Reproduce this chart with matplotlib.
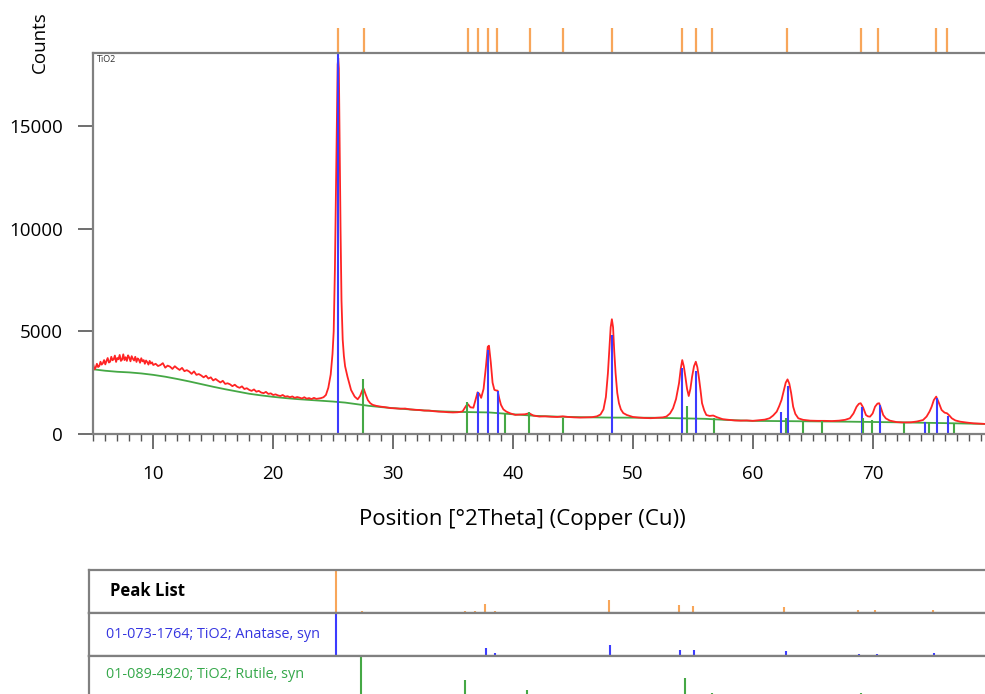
import numpy as np
import matplotlib.pyplot as plt
from matplotlib.ticker import MultipleLocator

plt.rcParams['font.family'] = ['Open Sans', 'DejaVu Sans']

scan_2theta = [
    5.0, 5.1, 5.2, 5.3, 5.4, 5.5, 5.6, 5.7, 5.8, 5.9, 6.0, 6.1, 6.2, 6.3, 6.4, 6.5, 6.6, 6.7, 6.8, 6.9,
    7.0, 7.1, 7.2, 7.3, 7.4, 7.5, 7.6, 7.7, 7.8, 7.9, 8.0, 8.1, 8.2, 8.3, 8.4, 8.5, 8.6, 8.7, 8.8, 8.9,
    9.0, 9.1, 9.2, 9.3, 9.4, 9.5, 9.6, 9.7, 9.8, 9.9, 10.0,
    10.2, 10.4, 10.6, 10.8, 11.0, 11.2, 11.4, 11.6, 11.8, 12.0, 12.2, 12.4, 12.6, 12.8, 13.0, 13.2, 13.4,
    13.6, 13.8, 14.0, 14.2, 14.4, 14.6, 14.8, 15.0, 15.2, 15.4, 15.6, 15.8, 16.0, 16.2, 16.4, 16.6, 16.8,
    17.0, 17.2, 17.4, 17.6, 17.8, 18.0, 18.2, 18.4, 18.6, 18.8, 19.0, 19.2, 19.4, 19.6, 19.8, 20.0, 20.2,
    20.4, 20.6, 20.8, 21.0, 21.2, 21.4, 21.6, 21.8, 22.0, 22.2, 22.4, 22.6, 22.8, 23.0, 23.2, 23.4, 23.6,
    23.8, 24.0, 24.2,
    24.4, 24.6, 24.8, 24.95, 25.05, 25.15, 25.25, 25.32, 25.38, 25.43, 25.48, 25.55, 25.62, 25.7, 25.8,
    25.9, 26.0, 26.2, 26.5, 26.8, 27.05, 27.25, 27.45, 27.55, 27.7, 27.9, 28.1, 28.3, 28.6, 29.0, 29.4,
    29.8, 30.2, 30.6, 31.0, 31.4, 31.8, 32.2, 32.6, 33.0, 33.4, 33.8, 34.2, 34.6, 35.0, 35.4, 35.8,
    36.1, 36.25, 36.45, 36.7, 36.9, 37.05, 37.2, 37.35, 37.55, 37.75, 37.9, 38.0, 38.15, 38.3, 38.45,
    38.6, 38.72, 38.85, 39.0, 39.2, 39.45, 39.8, 40.2, 40.6, 41.0, 41.35, 41.7, 42.2, 42.7, 43.2, 43.7,
    44.15, 44.6, 45.1, 45.6, 46.1, 46.6, 47.0, 47.3, 47.55, 47.75, 47.92, 48.05, 48.15, 48.25, 48.35,
    48.45, 48.56, 48.7, 48.84, 49.0, 49.2, 49.5, 50.0, 50.5, 51.0, 51.5, 52.0, 52.5, 52.8, 53.1, 53.35,
    53.6, 53.85, 54.0, 54.12, 54.25, 54.38, 54.52, 54.66, 54.8, 54.94, 55.1, 55.25, 55.38, 55.5, 55.65,
    55.77, 55.95, 56.13, 56.4, 56.7, 57.0, 57.5, 58.0, 58.5, 59.0, 59.5, 60.0, 60.5, 61.0, 61.4, 61.7,
    62.0, 62.2, 62.4, 62.6, 62.75, 62.9, 63.05, 63.2, 63.37, 63.55, 63.8, 64.2, 64.8, 65.4, 66.0, 66.6,
    67.2, 67.7, 68.1, 68.4, 68.66, 68.85, 69.0, 69.2, 69.44, 69.6, 69.78, 70.0, 70.2, 70.4, 70.54, 70.7,
    70.88, 71.1, 71.44, 72.0, 72.6, 73.2, 73.7, 74.2, 74.5, 74.75, 74.92, 75.1, 75.3, 75.5, 75.75, 76.0,
    76.2, 76.4, 76.6, 76.9, 77.3, 77.8, 78.4, 79.0, 79.4]
scan_counts = [
    3380, 3150, 3240, 3420, 3260, 3310, 3520, 3380, 3450, 3600, 3390, 3560, 3700, 3480, 3520, 3760, 3590, 3640, 3820, 3510,
    3700, 3640, 3850, 3560, 3620, 3880, 3600, 3740, 3560, 3830, 3720, 3540, 3790, 3660, 3580, 3760, 3510, 3680, 3620, 3470,
    3690, 3540, 3600, 3420, 3580, 3500, 3380, 3560, 3430, 3490, 3360,
    3420, 3310, 3360, 3450, 3230, 3330, 3280, 3170, 3300, 3200, 3120, 3220, 3060, 3110, 3040, 2930, 3050,
    2880, 2920, 2850, 2760, 2840, 2700, 2760, 2610, 2680, 2590, 2510, 2590, 2440, 2470, 2420, 2330, 2400,
    2300, 2250, 2320, 2190, 2230, 2150, 2100, 2170, 2060, 2100, 2020, 1990, 2050, 1950, 1980, 1900, 1930,
    1880, 1850, 1900, 1820, 1840, 1790, 1830, 1760, 1800, 1770, 1730, 1790, 1720, 1750, 1700, 1760, 1710,
    1730, 1750, 1790,
    1900, 2250, 2900, 3900, 5000, 8000, 12500, 16000, 18000, 18300, 17800, 14000, 10000, 6500, 4600,
    3800, 3300, 2790, 2140, 1820, 1690, 1850, 2150, 2200, 1950, 1650, 1500, 1420, 1370, 1330, 1300,
    1260, 1250, 1230, 1240, 1200, 1180, 1170, 1140, 1140, 1110, 1090, 1080, 1060, 1050, 1060, 1100,
    1380, 1450, 1300, 1280, 1700, 2030, 1950, 1760, 2200, 3300, 4250, 4300, 3500, 2500, 2150,
    2120, 2110, 1750, 1420, 1200, 1090, 1000, 930, 950, 960, 1010, 900, 850, 860, 840, 830,
    860, 830, 810, 800, 810, 820, 860, 950, 1200, 1800, 2960, 4200, 5200, 5590, 5200,
    4000, 2960, 2000, 1500, 1200, 1020, 925, 830, 800, 780, 770, 790, 810, 850, 1000, 1250,
    1700, 2470, 3200, 3600, 3300, 2790, 2200, 1850, 2200, 2790, 3300, 3520, 3250, 2790, 2100,
    1500, 1150, 925, 880, 900, 820, 720, 690, 660, 650, 660, 640, 670, 700, 765, 900,
    1090, 1350, 1660, 2150, 2500, 2660, 2450, 2000, 1330, 980, 765, 690, 650, 640, 640, 630,
    650, 690, 765, 1000, 1330, 1470, 1500, 1300, 925, 860, 845, 1000, 1330, 1480, 1500, 1250,
    925, 760, 650, 580, 560, 570, 610, 680, 850, 1100, 1330, 1650, 1820, 1550, 1170, 1040,
    1010, 900, 765, 660, 600, 560, 520, 500, 490]

# fitted background (green)
bg_2theta = [5, 6, 7, 8, 9, 10, 11, 12, 13, 14, 15, 16, 17, 18, 19, 20, 21, 22, 23, 24, 25, 26, 27,
             28, 29, 30, 32, 34, 36, 38, 40, 42, 44, 46, 48, 52, 56, 58, 60, 64, 68, 72, 76, 79.4]
bg_counts = [3150, 3080, 3030, 3000, 2950, 2880, 2790, 2680, 2560, 2430, 2300, 2180, 2070, 1960, 1880,
             1810, 1750, 1700, 1660, 1620, 1580, 1530, 1450, 1370, 1310, 1260, 1170, 1100, 1070, 1050,
             960, 880, 840, 815, 800, 790, 740, 680, 640, 620, 600, 570, 530, 490]

# reference pattern 01-073-1764 anatase (blue)
anatase_pos = [25.39, 37.05, 37.93, 38.72, 48.26, 54.1, 55.3, 62.36, 62.98, 69.07, 70.6, 74.38, 75.33, 76.3]
anatase_counts = [18570, 2060, 4090, 2110, 4820, 3200, 3080, 1090, 2340, 1330, 1410, 600, 1740, 880]
anatase_rel = [100, 3, 19, 7, 25, 14, 14, 2, 12, 5, 5, 1, 8, 2]

# reference pattern 01-089-4920 rutile (green)
rutile_pos = [27.53, 36.17, 39.3, 41.33, 44.2, 54.55, 56.77, 62.8, 64.2, 65.8, 69.2, 69.98, 72.63, 74.7, 76.8]
rutile_counts = [2700, 1570, 1010, 1090, 765, 1360, 765, 780, 620, 620, 765, 680, 520, 600, 490]
rutile_rel = [100, 45, 8, 22, 7, 50, 16, 8, 8, 2, 16, 8, 2, 2, 4]

# peak list (orange)
peak_pos = [25.44, 27.61, 36.21, 37.05, 37.88, 38.71, 41.39, 44.14, 48.23, 54.07, 55.24, 56.58,
            62.84, 69.02, 70.43, 75.27, 76.19]
peak_rel = [100, 5, 3, 5, 20, 5, 2, 1, 30, 18, 16, 2, 14, 6, 6, 6, 2]

red = '#ff2424'
blue = '#3c3cff'
green = '#45a845'
orange = '#f8a65a'
frame = '#808080'

W, H = 985, 694
fig = plt.figure(figsize=(W / 100, H / 100), dpi=100)


def px_axes(x0, y0, x1, y1):
    return fig.add_axes([x0 / W, 1 - y1 / H, (x1 - x0) / W, (y1 - y0) / H])


ax = px_axes(93.3, 52.7, 985, 434)
ax.plot(bg_2theta, bg_counts, color=green, lw=1.3)
ax.plot(scan_2theta, scan_counts, color=red, lw=1.3)
ax.vlines(anatase_pos, 0, anatase_counts, color=blue, lw=1.5)
ax.vlines(rutile_pos, 0, rutile_counts, color=green, lw=1.5)
ax.vlines(peak_pos, 1.0, 1.066, color=orange, lw=1.6,
          transform=ax.get_xaxis_transform(), clip_on=False)

ax.set_xlim(5.0, 79.37)
ax.set_ylim(0, 18570)
ax.set_xticks([10, 20, 30, 40, 50, 60, 70])
ax.xaxis.set_minor_locator(MultipleLocator(1))
ax.set_yticks([0, 5000, 10000, 15000])
ax.tick_params(axis='both', which='major', length=11, width=1.2, color='#555555',
               labelsize=13.5, pad=11)
ax.tick_params(axis='x', which='minor', length=5, width=1.0, color='#555555')
for side in ['left', 'top', 'bottom']:
    ax.spines[side].set_color(frame)
    ax.spines[side].set_linewidth(1.6)
ax.spines['right'].set_visible(False)

ax.text(0.004, 0.995, 'TiO2', transform=ax.transAxes, fontsize=6.5, va='top', ha='left',
        color='#333333')
ax.set_xlabel('Position [°2Theta] (Copper (Cu))', fontsize=16)
ax.xaxis.set_label_coords((522 - 93.3) / (985 - 93.3), -(520 - 434) / (434 - 52.7))
ax.xaxis.label.set_va('center')
fig.text(40 / W, 1 - 42 / H, 'Counts', rotation=90, fontsize=13.5, ha='center', va='center')

# bottom panel: peak list and reference patterns
rows = [(570, 612.7, peak_pos, peak_rel, orange, 'Peak List', 'black', 'bold', 591, 12),
        (612.7, 656, anatase_pos, anatase_rel, blue, '01-073-1764; TiO2; Anatase, syn', '#3535e0', 'normal', 635, 10.4),
        (656, 699.5, rutile_pos, rutile_rel, green, '01-089-4920; TiO2; Rutile, syn', '#35a84a', 'normal', 675, 10.4)]
for top, bot, pos, rel, col, label, tcol, weight, ylab, fs in rows:
    rax = px_axes(89, top, 985, bot)
    rax.vlines(pos, 0, rel, color=col, lw=1.5)
    rax.set_xlim(4.8, 79.59)
    rax.set_ylim(0, 100)
    rax.set_xticks([])
    rax.set_yticks([])
    for side in ['left', 'top', 'bottom']:
        rax.spines[side].set_color(frame)
        rax.spines[side].set_linewidth(1.6)
    rax.spines['right'].set_visible(False)
    lx = 110 if weight == 'bold' else 106
    rax.text((lx - 89) / (985 - 89), (bot - ylab) / (bot - top), label, transform=rax.transAxes,
             fontsize=fs, fontweight=weight, color=tcol, ha='left', va='center')

fig.savefig('out.png', dpi=100)
